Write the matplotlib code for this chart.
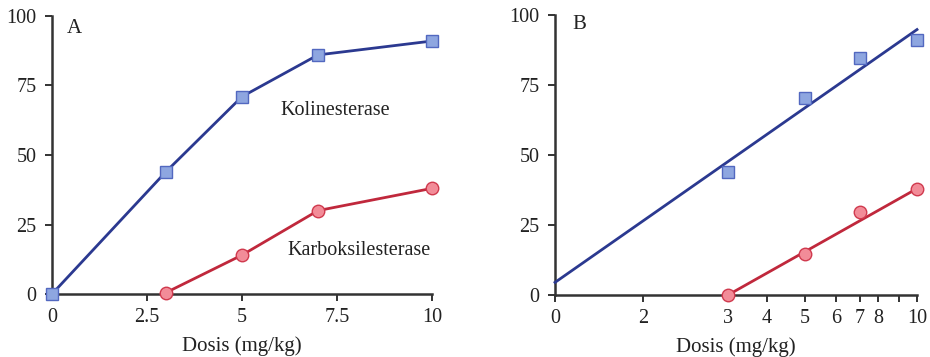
import numpy as np
import matplotlib
matplotlib.use("Agg")
import matplotlib.pyplot as plt

plt.rcParams['font.family'] = ['Liberation Serif', 'DejaVu Serif']

# Data
dose_a_chol = [0, 3, 5, 7, 10]
chol_a = [0, 44, 71, 86, 91]
dose_a_carb = [3, 5, 7, 10]
carb_a = [0.5, 14, 30, 38]

dose_b = [3, 5, 7, 10]
chol_b = [44, 70.5, 84.5, 91]
carb_b = [0, 14.5, 29.5, 38]
fit_chol_x = [0, 10]
fit_chol_y = [4.5, 94.8]
fit_carb_x = [3, 10]
fit_carb_y = [0, 38]

xticks_a = [0, 2.5, 5, 7.5, 10]
xticklabels_a = ['0', '2.5', '5', '7.5', '10']
xticks_b = [0, 2, 3, 4, 5, 6, 7, 8, 9, 10]
xticklabels_b = ['0', '2', '3', '4', '5', '6', '7', '8', '', '10']
yticks = [0, 25, 50, 75, 100]

# Axis B scale knots (custom, nonlinear dose axis)
knot_x = np.array([0, 2, 3, 4, 5, 6, 7, 8, 9, 10, 11])
knot_u = np.array([0, 88, 173, 212, 250, 281, 305, 323, 344, 362, 377], dtype=float)

def fwd(x):
    return np.interp(x, knot_x, knot_u)

def inv(u):
    return np.interp(u, knot_u, knot_x)

blue = '#2b3990'
blue_fill = '#8ea6e0'
blue_edge = '#5268c0'
red = '#c0283c'
red_fill = '#f28c98'
red_edge = '#d03a4e'
axcol = '#333333'
txtcol = '#222222'

W, H = 930, 357
fig = plt.figure(figsize=(W / 100, H / 100), dpi=100)

def px_axes(l, r, b, t):
    return fig.add_axes([l / W, 1 - b / H, (r - l) / W, (b - t) / H])

axA = px_axes(52, 432, 294, 16)
axB = px_axes(555, 917, 295, 15)

for ax in (axA, axB):
    for s in ('top', 'right'):
        ax.spines[s].set_visible(False)
    for s in ('left', 'bottom'):
        ax.spines[s].set_color(axcol)
        ax.spines[s].set_linewidth(1.8)
    ax.tick_params(direction='out', length=5, width=1.4, color=axcol,
                   labelsize=14.5, labelcolor=txtcol, pad=5)
    ax.tick_params(axis='y', pad=6)
    ax.set_ylim(0, 100)
    ax.set_yticks(yticks)
    ax.set_xlabel('Dosis (mg/kg)', fontsize=15, color=txtcol, labelpad=7)

# Panel A
axA.set_xlim(0, 10)
axA.set_xticks(xticks_a)
axA.set_xticklabels(xticklabels_a)
axA.plot(dose_a_chol, chol_a, color=blue, lw=2, marker='s', ms=8.5,
         mfc=blue_fill, mec=blue_edge, mew=1, clip_on=False, zorder=5)
axA.plot(dose_a_carb, carb_a, color=red, lw=2, marker='o', ms=9,
         mfc=red_fill, mec=red_edge, mew=1, clip_on=False, zorder=5)
axA.text(0.04, 0.99, 'A', transform=axA.transAxes, fontsize=15, color=txtcol,
         ha='left', va='top')
axA.text(6.0, 66, 'Kolinesterase', fontsize=14.5, color=txtcol, ha='left', va='center')
axA.text(6.2, 15.5, 'Karboksilesterase', fontsize=14.5, color=txtcol, ha='left', va='center')

# Panel B
axB.set_xscale('function', functions=(fwd, inv))
axB.set_xlim(0, 10)
axB.set_xticks(xticks_b)
axB.set_xticklabels(xticklabels_b)
axB.minorticks_off()
axB.plot(fit_chol_x, fit_chol_y, color=blue, lw=2, clip_on=False, zorder=4)
axB.plot(fit_carb_x, fit_carb_y, color=red, lw=2, clip_on=False, zorder=4)
axB.plot(dose_b, chol_b, ls='none', marker='s', ms=8.5,
         mfc=blue_fill, mec=blue_edge, mew=1, clip_on=False, zorder=5)
axB.plot(dose_b, carb_b, ls='none', marker='o', ms=9,
         mfc=red_fill, mec=red_edge, mew=1, clip_on=False, zorder=5)
axB.text(0.047, 1.0, 'B', transform=axB.transAxes, fontsize=15, color=txtcol,
         ha='left', va='top')

fig.savefig('out.png', dpi=100)
